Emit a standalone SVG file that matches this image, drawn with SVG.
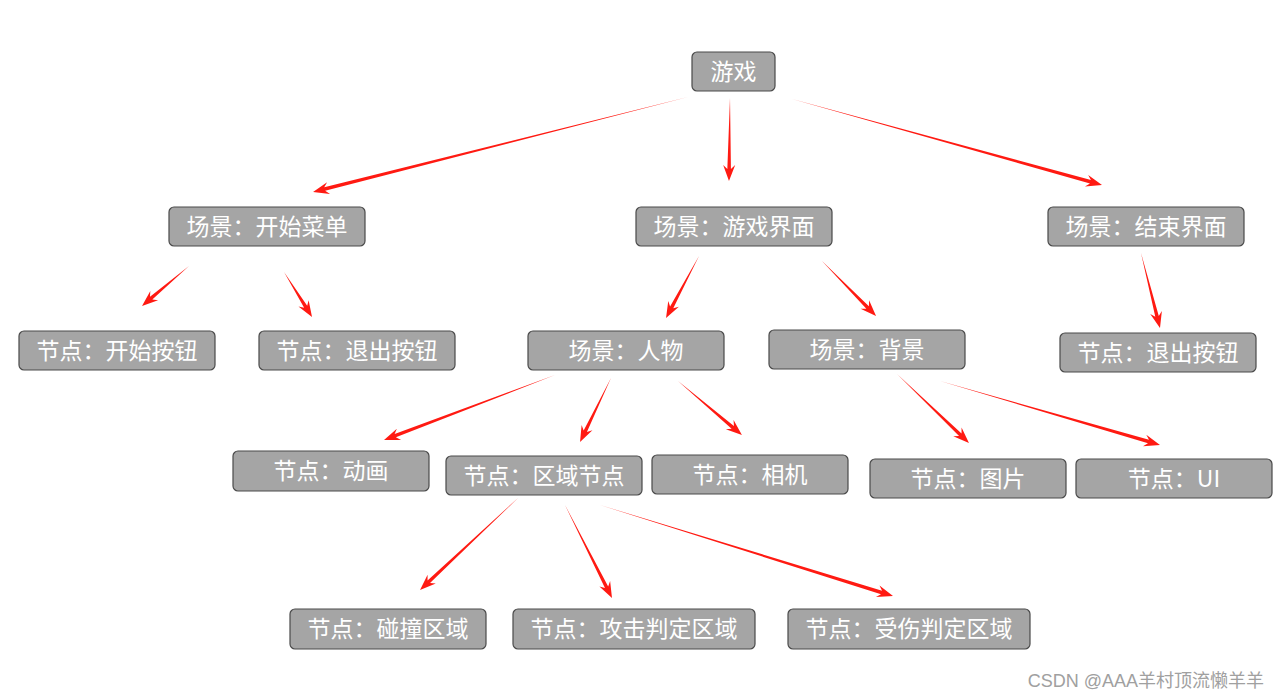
<svg xmlns="http://www.w3.org/2000/svg" width="1279" height="699" viewBox="0 0 1279 699">
<style>
.n rect{fill:#a5a5a5;stroke:#4a4a4a;stroke-width:1.2}
.n text{font-family:"Noto Sans CJK SC","Noto Sans",sans-serif;font-size:23px;fill:#ffffff;text-anchor:middle}
.a path{fill:#ff1a12}
.wm{font-family:"Liberation Sans","Noto Sans CJK SC",sans-serif;font-size:18px;fill:#a0a0a0}
</style>
<rect width="1279" height="699" fill="#ffffff"/>
<g id="connectors" class="a">
<path transform="translate(688 97) rotate(165.78)" d="M0,0 L374.8,-1.8 L370.8,-6 L386.8,0 L370.8,6 L374.8,1.8 Z"/>
<path transform="translate(730 98) rotate(90.7)" d="M0,0 L71,-1.8 L67,-6 L83,0 L67,6 L71,1.8 Z"/>
<path transform="translate(792 99) rotate(15.5)" d="M0,0 L309.7,-1.8 L305.7,-6 L321.7,0 L305.7,6 L309.7,1.8 Z"/>
<path transform="translate(189 266) rotate(139.6)" d="M0,0 L49.7,-1.8 L45.7,-6 L61.7,0 L45.7,6 L49.7,1.8 Z"/>
<path transform="translate(284 272) rotate(58.1)" d="M0,0 L41,-1.8 L37,-6 L53,0 L37,6 L41,1.8 Z"/>
<path transform="translate(699 256) rotate(118)" d="M0,0 L58.2,-1.8 L54.2,-6 L70.2,0 L54.2,6 L58.2,1.8 Z"/>
<path transform="translate(822 261) rotate(45.5)" d="M0,0 L65.1,-1.8 L61.1,-6 L77.1,0 L61.1,6 L65.1,1.8 Z"/>
<path transform="translate(1141 253) rotate(75.8)" d="M0,0 L65.4,-1.8 L61.4,-6 L77.4,0 L61.4,6 L65.4,1.8 Z"/>
<path transform="translate(555 375) rotate(159.2)" d="M0,0 L170.9,-1.8 L166.9,-6 L182.9,0 L166.9,6 L170.9,1.8 Z"/>
<path transform="translate(611 378) rotate(115.8)" d="M0,0 L59.1,-1.8 L55.1,-6 L71.1,0 L55.1,6 L59.1,1.8 Z"/>
<path transform="translate(678 381) rotate(40.2)" d="M0,0 L71.7,-1.8 L67.7,-6 L83.7,0 L67.7,6 L71.7,1.8 Z"/>
<path transform="translate(897 374) rotate(43.8)" d="M0,0 L87.7,-1.8 L83.7,-6 L99.7,0 L83.7,6 L87.7,1.8 Z"/>
<path transform="translate(940 381) rotate(16.2)" d="M0,0 L217.1,-1.8 L213.1,-6 L229.1,0 L213.1,6 L217.1,1.8 Z"/>
<path transform="translate(518 498) rotate(136.8)" d="M0,0 L122.4,-1.8 L118.4,-6 L134.4,0 L118.4,6 L122.4,1.8 Z"/>
<path transform="translate(565 505) rotate(63.2)" d="M0,0 L92.2,-1.8 L88.2,-6 L104.2,0 L88.2,6 L92.2,1.8 Z"/>
<path transform="translate(600 505) rotate(17.25)" d="M0,0 L294.8,-1.8 L290.8,-6 L306.8,0 L290.8,6 L294.8,1.8 Z"/>
</g>
<g id="n_game" class="n"><rect x="692" y="52" width="83" height="39" rx="5"/><text x="733.5" y="80">游戏</text></g>
<g id="n_startmenu" class="n"><rect x="169" y="207" width="196" height="39" rx="5"/><text x="267" y="235">场景：开始菜单</text></g>
<g id="n_gameui" class="n"><rect x="636" y="207" width="196" height="39" rx="5"/><text x="734" y="235">场景：游戏界面</text></g>
<g id="n_endui" class="n"><rect x="1048" y="207" width="196" height="39" rx="5"/><text x="1146" y="235">场景：结束界面</text></g>
<g id="n_startbtn" class="n"><rect x="19" y="331" width="196" height="39" rx="5"/><text x="117" y="359">节点：开始按钮</text></g>
<g id="n_exitbtn1" class="n"><rect x="259" y="331" width="196" height="39" rx="5"/><text x="357" y="359">节点：退出按钮</text></g>
<g id="n_char" class="n"><rect x="528" y="331" width="196" height="39" rx="5"/><text x="626" y="359">场景：人物</text></g>
<g id="n_bg" class="n"><rect x="769" y="330" width="196" height="39" rx="5"/><text x="867" y="358">场景：背景</text></g>
<g id="n_exitbtn2" class="n"><rect x="1060" y="333" width="196" height="39" rx="5"/><text x="1158" y="361">节点：退出按钮</text></g>
<g id="n_anim" class="n"><rect x="233" y="451" width="196" height="40" rx="5"/><text x="331" y="479">节点：动画</text></g>
<g id="n_area" class="n"><rect x="446" y="456" width="196" height="39" rx="5"/><text x="544" y="484">节点：区域节点</text></g>
<g id="n_cam" class="n"><rect x="652" y="455" width="196" height="39" rx="5"/><text x="750" y="483">节点：相机</text></g>
<g id="n_img" class="n"><rect x="870" y="459" width="196" height="39" rx="5"/><text x="968" y="487">节点：图片</text></g>
<g id="n_ui" class="n"><rect x="1076" y="459" width="196" height="39" rx="5"/><text x="1174" y="487">节点：UI</text></g>
<g id="n_collide" class="n"><rect x="290" y="609" width="196" height="40" rx="5"/><text x="388" y="637">节点：碰撞区域</text></g>
<g id="n_attack" class="n"><rect x="513" y="609" width="242" height="40" rx="5"/><text x="634" y="637">节点：攻击判定区域</text></g>
<g id="n_hurt" class="n"><rect x="788" y="609" width="242" height="40" rx="5"/><text x="909" y="637">节点：受伤判定区域</text></g>
<text class="wm" x="1264" y="687" text-anchor="end">CSDN @AAA羊村顶流懒羊羊</text>
</svg>
